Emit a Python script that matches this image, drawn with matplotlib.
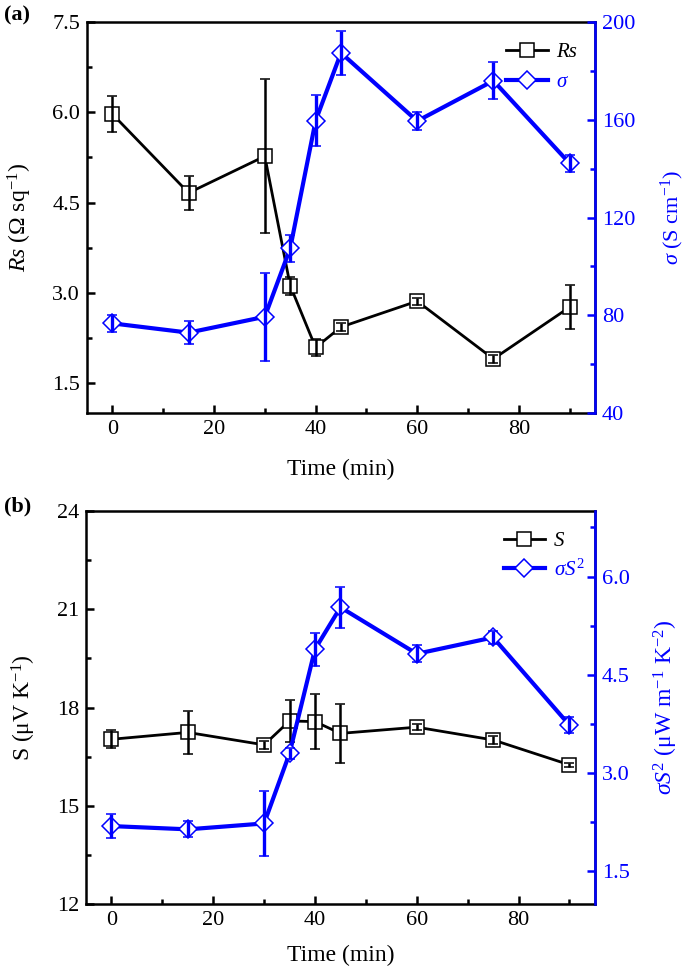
import matplotlib
matplotlib.use('Agg')
import matplotlib.pyplot as plt
from matplotlib.ticker import MultipleLocator, FormatStrFormatter

plt.rcParams['font.family'] = ['Liberation Serif', 'DejaVu Serif']
plt.rcParams['mathtext.fontset'] = 'custom'
plt.rcParams['mathtext.rm'] = 'Liberation Serif'
plt.rcParams['mathtext.it'] = 'Liberation Serif:italic'
plt.rcParams['mathtext.bf'] = 'Liberation Serif:bold'
plt.rcParams['font.size'] = 16

# data
time = [0, 15, 30, 35, 40, 45, 60, 75, 90]
rs = [5.97, 4.66, 5.27, 3.12, 2.09, 2.43, 2.86, 1.90, 2.76]
rs_err = [0.30, 0.28, 1.28, 0.15, 0.14, 0.07, 0.06, 0.06, 0.37]
sigma = [76.7, 72.9, 79.4, 107.4, 159.6, 187.4, 159.5, 176.0, 142.2]
sigma_err = [3.6, 4.8, 18.0, 5.5, 10.4, 9.0, 3.7, 7.5, 3.4]
seebeck = [17.03, 17.24, 16.86, 17.59, 17.57, 17.21, 17.40, 17.01, 16.25]
seebeck_err = [0.28, 0.66, 0.13, 0.65, 0.84, 0.89, 0.10, 0.13, 0.07]
pf = [2.19, 2.14, 2.23, 3.30, 4.89, 5.53, 4.82, 5.07, 3.73]
pf_err = [0.18, 0.12, 0.50, 0.08, 0.25, 0.31, 0.13, 0.10, 0.12]

blue = '#0000ff'
lw_spine = 1.8


def style(ax, ax2):
    for s in ['left', 'top', 'bottom', 'right']:
        ax.spines[s].set_linewidth(lw_spine)
    for s in ['left', 'top', 'bottom']:
        ax2.spines[s].set_visible(False)
    ax2.spines['right'].set_color(blue)
    ax2.spines['right'].set_linewidth(lw_spine)
    ax.tick_params(which='both', direction='in', top=False, right=False, width=lw_spine, labelsize=16)
    ax.tick_params(which='major', length=6, pad=5)
    ax.tick_params(which='minor', length=3.5)
    ax2.tick_params(axis='y', which='both', direction='in', colors=blue, width=lw_spine, labelsize=16)
    ax2.tick_params(axis='y', which='major', length=6, pad=5)
    ax2.tick_params(axis='y', which='minor', length=3.5)
    ax.set_xlim(-5, 95)
    ax.xaxis.set_major_locator(MultipleLocator(20))
    ax.xaxis.set_minor_locator(MultipleLocator(10))


def bars_on_top(eb):
    # error bars are drawn over the open markers in the original
    for artist in list(eb[1]) + list(eb[2]):
        artist.set_zorder(3)


fig = plt.figure(figsize=(6.85, 9.73), dpi=100)

# ---- (a) ----
ax = fig.add_axes([0.127, 0.5755, 0.7416, 0.4018])
ax2 = ax.twinx()
eb1 = ax.errorbar(time, rs, yerr=rs_err, color='k', marker='s', ms=9.5, mfc='white', mec='k', mew=1.1,
                  lw=2, elinewidth=1.8, capsize=3.5, capthick=1.8)
eb2 = ax2.errorbar(time, sigma, yerr=sigma_err, color=blue, marker='D', ms=9.5, mfc='white', mec=blue, mew=1.1,
                   lw=3, elinewidth=2.4, capsize=3.5, capthick=2.2)
bars_on_top(eb1)
bars_on_top(eb2)
style(ax, ax2)
ax.set_ylim(1.0, 7.5)
ax.yaxis.set_major_locator(MultipleLocator(1.5))
ax.yaxis.set_minor_locator(MultipleLocator(0.75))
ax.yaxis.set_major_formatter(FormatStrFormatter('%.1f'))
ax2.set_ylim(40, 200)
ax2.yaxis.set_major_locator(MultipleLocator(40))
ax2.yaxis.set_minor_locator(MultipleLocator(20))
ax.set_xlabel('Time (min)', fontsize=17)
ax.xaxis.set_label_coords(0.5, -0.118)
ax.set_ylabel(r'$\mathit{Rs}$ (Ω sq$^{-1}$)', fontsize=17)
ax.yaxis.set_label_coords(-0.105, 0.5)
ax2.set_ylabel(r'$\sigma$ (S cm$^{-1}$)', fontsize=16, color=blue)
ax2.yaxis.set_label_coords(1.125, 0.5)
ax2.legend([eb1[0], eb2[0]], ['Rs', 'σ'], loc='upper left', bbox_to_anchor=(0.805, 0.975),
           frameon=False, borderpad=0, handlelength=2.0, handletextpad=0.4, labelspacing=0.5,
           labelcolor='linecolor', prop={'style': 'italic', 'size': 15})
fig.text(0.006, 0.994, '(a)', fontsize=16, fontweight='bold', va='top')

# ---- (b) ----
bx = fig.add_axes([0.1255, 0.0709, 0.743, 0.4039])
bx2 = bx.twinx()
eb3 = bx.errorbar(time, seebeck, yerr=seebeck_err, color='k', marker='s', ms=9.5, mfc='white', mec='k', mew=1.1,
                  lw=2, elinewidth=1.8, capsize=3.5, capthick=1.8)
eb4 = bx2.errorbar(time, pf, yerr=pf_err, color=blue, marker='D', ms=9.5, mfc='white', mec=blue, mew=1.1,
                   lw=3, elinewidth=2.4, capsize=3.5, capthick=2.2)
bars_on_top(eb3)
bars_on_top(eb4)
style(bx, bx2)
bx.set_ylim(12, 24)
bx.yaxis.set_major_locator(MultipleLocator(3))
bx.yaxis.set_minor_locator(MultipleLocator(1.5))
bx2.set_ylim(1.0, 7.0)
bx2.yaxis.set_major_locator(MultipleLocator(1.5))
bx2.yaxis.set_minor_locator(MultipleLocator(0.75))
bx2.yaxis.set_major_formatter(FormatStrFormatter('%.1f'))
bx.set_xlabel('Time (min)', fontsize=17)
bx.xaxis.set_label_coords(0.5, -0.105)
bx.set_ylabel('S (μV K$^{-1}$)', fontsize=17)
bx.yaxis.set_label_coords(-0.095, 0.5)
bx2.set_ylabel(r'$\sigma S^2$ (μW m$^{-1}$ K$^{-2}$)', fontsize=17, color=blue)
bx2.yaxis.set_label_coords(1.112, 0.5)
bx2.legend([eb3[0], eb4[0]], ['S', r'$\sigma S^2$'], loc='upper left', bbox_to_anchor=(0.80, 0.975),
           frameon=False, borderpad=0, handlelength=2.0, handletextpad=0.4, labelspacing=0.4,
           labelcolor='linecolor', prop={'style': 'italic', 'size': 15})
fig.text(0.006, 0.49, '(b)', fontsize=16, fontweight='bold', va='top')

fig.savefig('out.png', dpi=100)
